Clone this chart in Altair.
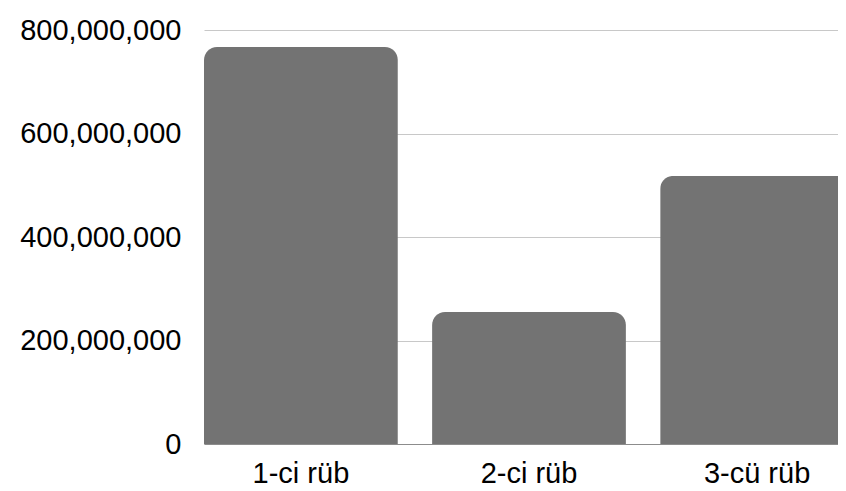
import altair as alt
import pandas as pd

categories = ["1-ci rüb", "2-ci rüb", "3-cü rüb"]
values = [767000000, 255000000, 518000000]
y_ticks = [0, 200000000, 400000000, 600000000, 800000000]

df = pd.DataFrame({"cat": categories, "val": values})

FONT = "Liberation Sans"

chart = alt.Chart(df).mark_bar(
    color="#737373",
    cornerRadiusTopLeft=13,
    cornerRadiusTopRight=13,
).encode(
    x=alt.X(
        "cat:N",
        sort=categories,
        title=None,
        scale=alt.Scale(paddingInner=0.15, paddingOuter=0, rangeMin=1, rangeMax=651),
        axis=alt.Axis(
            labelAngle=0,
            labelFont=FONT,
            labelFontSize=29,
            labelColor="#000000",
            labelPadding=15,
            ticks=False,
            domain=True,
            domainColor="#8c8c8c",
            domainWidth=1,
            grid=False,
        ),
    ),
    y=alt.Y(
        "val:Q",
        title=None,
        scale=alt.Scale(domain=[0, 800000000], nice=False),
        axis=alt.Axis(
            values=y_ticks,
            format=",d",
            labelFont=FONT,
            labelFontSize=29,
            labelColor="#000000",
            labelPadding=22,
            ticks=False,
            domain=False,
            grid=True,
            gridColor="#c8c8c8",
            gridWidth=1,
        ),
    ),
).properties(
    width=635,
    height=414,
    autosize=alt.AutoSizeParams(type="none"),
    padding={"left": 195, "top": 22, "right": 0, "bottom": 45},
).configure_view(stroke=None)

chart.save("out.html", embed_options={"renderer": "svg", "actions": False})
